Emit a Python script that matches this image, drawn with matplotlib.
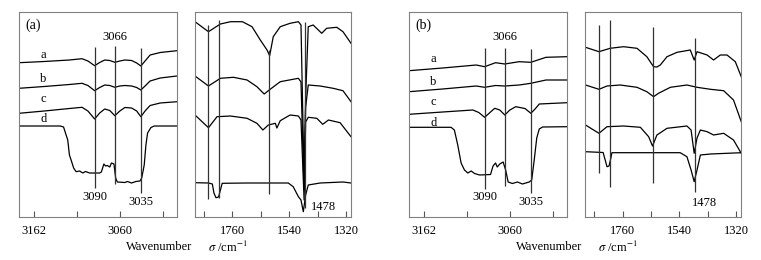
import numpy as np
import matplotlib.pyplot as plt

plt.rcParams['font.family'] = ['Liberation Serif', 'DejaVu Serif']
plt.rcParams['mathtext.fontset'] = 'stix'
plt.rcParams['font.size'] = 9

# ---- panel (a), C-H stretch region ----
wn_hi = [3180, 3150, 3120, 3105, 3098, 3090, 3084, 3078, 3072, 3066,
         3060, 3054, 3046, 3040, 3035, 3030, 3024, 3012, 2992]
a_hi_a = [154.3, 155.5, 157, 158.3, 156, 151.3, 154.5, 157, 156.5, 154.7,
          156, 157, 156.5, 154, 151, 156, 162, 164.5, 166.3]
a_hi_b = [128.7, 130.5, 132.5, 133.7, 131.5, 126.3, 129.5, 132, 131.5, 129.7,
          131, 131.5, 131, 129.5, 127, 131, 136, 139, 141]
a_hi_c = [103.7, 106, 108.5, 109.7, 106, 98, 104, 108, 106.5, 101.3,
          106, 109.5, 109, 106, 100.3, 106, 111.5, 114, 115.3]
wn_a_hi_d = [3180, 3131, 3127, 3122, 3120, 3118, 3115, 3112, 3108, 3104, 3101,
             3096, 3084, 3082, 3079, 3077, 3075, 3072, 3070, 3067, 3065, 3063,
             3054, 3051, 3046, 3041, 3036, 3034, 3031, 3029, 3027, 3023, 3019, 2992]
a_hi_d = [91, 91, 90, 77, 62, 57, 49, 45.3, 46, 44, 45.5,
          44, 44, 45, 53, 51, 51.5, 50, 54, 53, 39, 35,
          34.5, 35.5, 34, 35.5, 36, 39, 52, 72, 84, 89.5, 91, 91]

# ---- panel (a), fingerprint region ----
wn_a_lo_a = [1903, 1851, 1805, 1766, 1720, 1683, 1651, 1625, 1615, 1601, 1574,
             1536, 1504, 1494, 1482, 1476, 1466, 1447, 1414, 1395, 1356, 1332, 1301]
a_lo_a = [195.3, 185.3, 193, 195.3, 195.3, 190.3, 177, 167, 161.3, 180.3, 190.3,
          193.7, 195.3, 192, 37, 120, 190.3, 192, 183.7, 188.7, 189.7, 185.3, 173.7]
wn_a_lo_b = [1903, 1851, 1805, 1755, 1702, 1664, 1636, 1613, 1574, 1504, 1494,
             1482, 1476, 1466, 1420, 1370, 1332, 1301]
a_lo_b = [141, 131, 138.7, 139.7, 137, 130.3, 123, 127.7, 135.3, 138.7, 135,
          27, 110, 132, 131, 128.7, 126.3, 115.3]
wn_a_lo_c = [1903, 1851, 1818, 1766, 1702, 1664, 1641, 1620, 1593, 1587, 1574,
             1536, 1504, 1494, 1482, 1476, 1466, 1433, 1410, 1388, 1343, 1301]
a_lo_c = [102, 89.3, 100.3, 101, 98.7, 93.7, 87, 92, 93.7, 89, 96.3,
          102, 101, 97, 17, 95, 99.7, 98.7, 92.7, 97, 94.3, 80.3]
wn_a_lo_d = [1903, 1851, 1836, 1830, 1822, 1812, 1805, 1798, 1700, 1543, 1524,
             1504, 1494, 1485, 1476, 1466, 1420, 1332, 1301]
a_lo_d = [34.3, 34, 33, 24, 19.3, 20, 27, 33.7, 34, 34, 30.3,
          20.3, 17, 5.3, 22, 32, 34, 35, 34]

# ---- panel (b), C-H stretch region ----
wn_b_hi = [3180, 3140, 3100, 3090, 3077, 3066, 3049, 3035, 3017, 2992]
b_hi_a = [146.3, 149, 152, 150.3, 154.3, 153, 155.3, 154.7, 159.7, 160.3]
b_hi_b = [125.3, 128, 131, 129.7, 131.5, 131, 132, 133.7, 137, 137]
wn_b_hi_c = [3180, 3140, 3104, 3097, 3090, 3083, 3078, 3072, 3066, 3060,
             3053, 3042, 3035, 3030, 3025, 2992]
b_hi_c = [102.7, 105, 107, 104.5, 99.7, 105, 108.7, 107, 102, 107,
          110.3, 108.5, 103.7, 108, 113, 114.3]
wn_b_hi_d = [3180, 3130, 3126, 3122, 3118, 3114, 3110, 3106, 3102, 3096, 3083,
             3080, 3077, 3075, 3072, 3068, 3065, 3062, 3057, 3051, 3045, 3037,
             3034, 3031, 3028, 3025, 3021, 2992]
b_hi_d = [89.7, 89.7, 87, 72, 54, 47, 44, 46, 43.5, 42, 42.5,
          51, 54, 50, 53, 55, 47, 35, 33.5, 35, 33, 35,
          37, 57, 79, 88, 90, 90.3]

# ---- panel (b), fingerprint region ----
wn_b_lo_a = [1903, 1851, 1808, 1756, 1704, 1666, 1640, 1627, 1614, 1588, 1549,
             1498, 1483, 1472, 1433, 1408, 1382, 1356, 1324, 1301]
b_lo_a = [169.7, 165.3, 168.7, 170.3, 168.7, 160.3, 150.3, 150, 152, 160.3, 164.7,
          167, 157, 165.3, 162, 157, 162, 162, 155.3, 140.3]
wn_b_lo_b = [1903, 1851, 1820, 1769, 1704, 1666, 1640, 1621, 1575, 1511,
             1472, 1420, 1369, 1331, 1301]
b_lo_b = [132, 127.7, 131, 132, 129.7, 125.3, 120.3, 123.7, 129.7, 132,
          129.7, 127.7, 126.3, 117, 95.3]
wn_b_lo_c = [1903, 1851, 1820, 1756, 1691, 1659, 1644, 1627, 1588, 1511, 1495,
             1483, 1472, 1459, 1433, 1408, 1369, 1331, 1301]
b_lo_c = [92, 83.7, 90.3, 91, 89.7, 80.3, 71, 82, 88.7, 91, 87,
          63.7, 79, 87, 85.3, 82, 83.7, 77, 63.7]
wn_b_lo_d = [1903, 1835, 1827, 1820, 1812, 1805, 1801, 1537, 1511, 1495,
             1483, 1472, 1459, 1420, 1301]
b_lo_d = [65.3, 64.5, 57, 50.3, 51, 59, 64.3, 64.3, 60.3, 47,
          35.3, 47, 62, 63, 64.3]

# marker lines: (position, top, bottom)
a_hi_lines = [(3090, 170, 29), (3066, 171, 33), (3035, 169, 24)]
a_lo_lines = [(1851, 192, 18), (1810, 197, 19), (1616, 167, 23), (1478, 195, 9)]
b_hi_lines = [(3090, 169, 28), (3066, 169, 31), (3035, 168, 24)]
b_lo_lines = [(1851, 192, 44), (1810, 197, 30), (1644, 190, 34), (1478, 179, 25)]

hi_ticks = [3162, 3111, 3060, 3009]
hi_labels = ['3162', '', '3060', '']
lo_ticks = [1870, 1760, 1650, 1540, 1430, 1320]
lo_labels = ['', '1760', '', '1540', '', '1320']

W, H = 761, 260
fig = plt.figure(figsize=(W / 100, H / 100), dpi=100)


def make_ax(x0, w, xlim, ticks, labels):
    ax = fig.add_axes([x0 / W, 43 / H, w / W, 205 / H])
    ax.set_xlim(*xlim)
    ax.set_ylim(0, 205)
    ax.set_yticks([])
    ax.set_xticks(ticks)
    ax.set_xticklabels(labels)
    ax.tick_params(axis='x', direction='in', length=4, width=0.8,
                   color='#555555', pad=6, labelsize=9)
    for s in ax.spines.values():
        s.set_color('#808080')
        s.set_linewidth(0.8)
    return ax


ax1 = make_ax(19, 158, (3180, 2992), hi_ticks, hi_labels)
ax2 = make_ax(195, 156, (1903, 1301), lo_ticks, lo_labels)
ax3 = make_ax(409, 158, (3180, 2992), hi_ticks, hi_labels)
ax4 = make_ax(585, 156, (1905, 1302), lo_ticks, lo_labels)

lw = 0.9
ax1.plot(wn_hi, a_hi_a, 'k', lw=lw)
ax1.plot(wn_hi, a_hi_b, 'k', lw=lw)
ax1.plot(wn_hi, a_hi_c, 'k', lw=lw)
ax1.plot(wn_a_hi_d, a_hi_d, 'k', lw=lw)

ax2.plot(wn_a_lo_a, a_lo_a, 'k', lw=lw)
ax2.plot(wn_a_lo_b, a_lo_b, 'k', lw=lw)
ax2.plot(wn_a_lo_c, a_lo_c, 'k', lw=lw)
ax2.plot(wn_a_lo_d, a_lo_d, 'k', lw=lw)

ax3.plot(wn_b_hi, b_hi_a, 'k', lw=lw)
ax3.plot(wn_b_hi, b_hi_b, 'k', lw=lw)
ax3.plot(wn_b_hi_c, b_hi_c, 'k', lw=lw)
ax3.plot(wn_b_hi_d, b_hi_d, 'k', lw=lw)

ax4.plot(wn_b_lo_a, b_lo_a, 'k', lw=lw)
ax4.plot(wn_b_lo_b, b_lo_b, 'k', lw=lw)
ax4.plot(wn_b_lo_c, b_lo_c, 'k', lw=lw)
ax4.plot(wn_b_lo_d, b_lo_d, 'k', lw=lw)

for ax, lines in [(ax1, a_hi_lines), (ax2, a_lo_lines),
                  (ax3, b_hi_lines), (ax4, b_lo_lines)]:
    for pos, top, bot in lines:
        ax.vlines(pos, bot, top, color='#333333', lw=0.9)

# annotations
ax1.text(3172, 192, '(a)', ha='left', va='center', fontsize=10)
ax3.text(3172, 192, '(b)', ha='left', va='center', fontsize=10)
for ax, ys in [(ax1, [162, 138, 118, 98]), (ax3, [158, 135.3, 115, 94.3])]:
    for lab, y in zip('abcd', ys):
        ax.text(3151, y, lab, ha='center', va='center', fontsize=9)
    ax.text(3066, 180, '3066', ha='center', va='center', fontsize=9)
    ax.text(3090, 20, '3090', ha='center', va='center', fontsize=9)
    ax.text(3035, 15, '3035', ha='center', va='center', fontsize=9)
ax2.text(1409, 10, '1478', ha='center', va='center', fontsize=9)
ax4.text(1444, 14, '1478', ha='center', va='center', fontsize=9)

for x0 in (126, 516):
    fig.text(x0 / W, 1 - 247 / H, 'Wavenumber', ha='left', va='center', fontsize=9)
for x0 in (208, 598):
    fig.text(x0 / W, 1 - 247 / H, r'$\sigma$ /cm$^{-1}$', ha='left', va='center', fontsize=9)

fig.savefig('out.png', dpi=100)
